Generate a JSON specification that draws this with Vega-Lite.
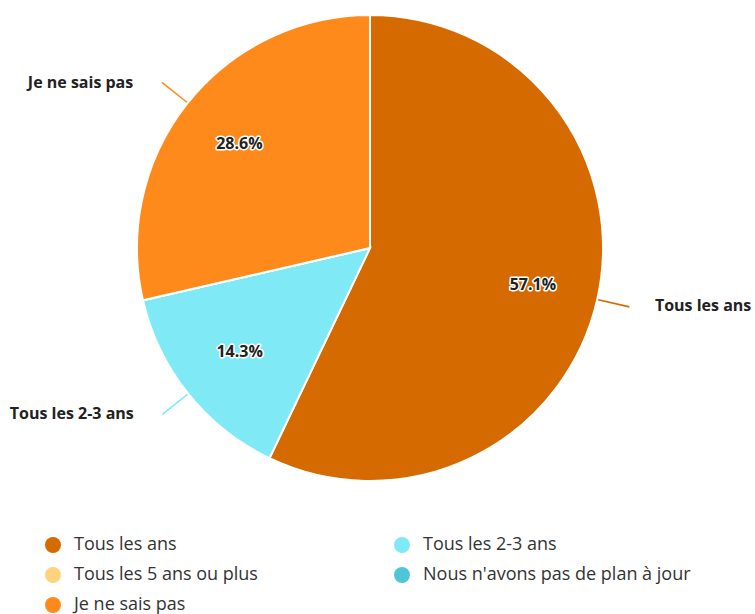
{
  "$schema": "https://vega.github.io/schema/vega-lite/v6.json",
  "width": 740,
  "height": 496,
  "autosize": {"type": "none"},
  "padding": {"left": 0, "top": 0, "right": 15, "bottom": 118},
  "background": "white",
  "config": {"view": {"stroke": null}},
  "data": {
    "values": [
      {"cat": "Tous les ans", "value": 0.571, "order": 1},
      {"cat": "Tous les 2-3 ans", "value": 0.143, "order": 2},
      {"cat": "Tous les 5 ans ou plus", "value": 0, "order": 3},
      {"cat": "Nous n'avons pas de plan à jour", "value": 0, "order": 4},
      {"cat": "Je ne sais pas", "value": 0.286, "order": 5}
    ]
  },
  "transform": [
    {"stack": "value", "groupby": [], "sort": [{"field": "order", "order": "ascending"}], "as": ["v0", "v1"]},
    {"calculate": "(datum.v0 + datum.v1) / 2", "as": "mid"},
    {"calculate": "datum.mid - 0.0005", "as": "c0"},
    {"calculate": "datum.mid + 0.0005", "as": "c1"}
  ],
  "layer": [
    {
      "mark": {"type": "arc", "outerRadius": 233, "stroke": "white", "strokeWidth": 2},
      "encoding": {
        "theta": {"field": "v0", "type": "quantitative", "stack": null, "scale": {"domain": [0, 1]}},
        "theta2": {"field": "v1"},
        "color": {
          "field": "cat",
          "type": "nominal",
          "scale": {
            "domain": ["Tous les ans", "Tous les 5 ans ou plus", "Je ne sais pas", "Tous les 2-3 ans", "Nous n'avons pas de plan à jour"],
            "range": ["#D46A00", "#FFD27F", "#FF8A1C", "#80E9F6", "#4FC6D6"]
          },
          "legend": {
            "title": null,
            "orient": "none",
            "legendX": 44,
            "legendY": 536,
            "columns": 2,
            "columnPadding": 135,
            "rowPadding": 12,
            "padding": 0,
            "symbolType": "circle",
            "symbolSize": 255,
            "symbolStrokeWidth": 0,
            "symbolOpacity": 1,
            "labelFont": "Open Sans",
            "labelFontSize": 18,
            "labelColor": "#333333",
            "labelOffset": 12,
            "labelLimit": 400
          }
        }
      }
    },
    {
      "transform": [{"filter": "datum.value > 0"}],
      "mark": {"type": "arc", "innerRadius": 234, "outerRadius": 266},
      "encoding": {
        "theta": {"field": "c0", "type": "quantitative", "stack": null, "scale": {"domain": [0, 1]}},
        "theta2": {"field": "c1"},
        "color": {"field": "cat", "type": "nominal", "legend": null}
      }
    },
    {
      "transform": [{"filter": "datum.value > 0"}],
      "mark": {"type": "text", "radius": 167, "font": "Open Sans", "fontSize": 16, "fontWeight": "bold", "stroke": "white", "strokeWidth": 3, "strokeJoin": "round", "fill": "white"},
      "encoding": {
        "theta": {"field": "mid", "type": "quantitative", "stack": null, "scale": {"domain": [0, 1]}},
        "text": {"field": "value", "type": "quantitative", "format": ".1%"}
      }
    },
    {
      "transform": [{"filter": "datum.value > 0"}],
      "mark": {"type": "text", "radius": 167, "font": "Open Sans", "fontSize": 16, "fontWeight": "bold", "fill": "#222222"},
      "encoding": {
        "theta": {"field": "mid", "type": "quantitative", "stack": null, "scale": {"domain": [0, 1]}},
        "text": {"field": "value", "type": "quantitative", "format": ".1%"}
      }
    },
    {
      "transform": [{"filter": "datum.cat === 'Tous les ans'"}],
      "mark": {"type": "text", "radius": 286, "align": "left", "dx": 6, "dy": -5, "font": "Open Sans", "fontSize": 16, "fontWeight": "bold", "fill": "#222222"},
      "encoding": {
        "theta": {"field": "mid", "type": "quantitative", "stack": null, "scale": {"domain": [0, 1]}},
        "text": {"field": "cat", "type": "nominal"}
      }
    },
    {
      "transform": [{"filter": "datum.cat === 'Je ne sais pas'"}],
      "mark": {"type": "text", "radius": 286, "align": "right", "dx": -13, "dy": 13, "font": "Open Sans", "fontSize": 16, "fontWeight": "bold", "fill": "#222222"},
      "encoding": {
        "theta": {"field": "mid", "type": "quantitative", "stack": null, "scale": {"domain": [0, 1]}},
        "text": {"field": "cat", "type": "nominal"}
      }
    },
    {
      "transform": [{"filter": "datum.cat === 'Tous les 2-3 ans'"}],
      "mark": {"type": "text", "radius": 286, "align": "right", "dx": -13, "dy": -13, "font": "Open Sans", "fontSize": 16, "fontWeight": "bold", "fill": "#222222"},
      "encoding": {
        "theta": {"field": "mid", "type": "quantitative", "stack": null, "scale": {"domain": [0, 1]}},
        "text": {"field": "cat", "type": "nominal"}
      }
    }
  ]
}
